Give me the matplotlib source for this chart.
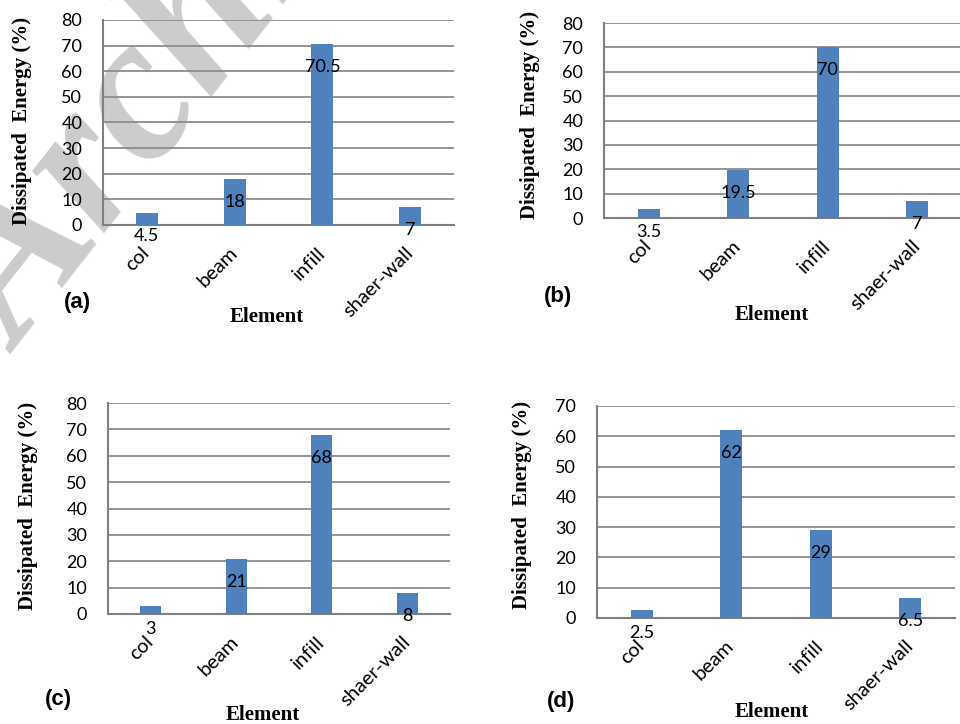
import matplotlib
matplotlib.use('Agg')
import matplotlib.pyplot as plt

# data
elements = ['col', 'beam', 'infill', 'shaer-wall']
energy_a = [4.5, 18, 70.5, 7]
energy_b = [3.5, 19.5, 70, 7]
energy_c = [3, 21, 68, 8]
energy_d = [2.5, 62, 29, 6.5]

ymax = {'a': 80, 'b': 80, 'c': 80, 'd': 70}

bar_color = '#4F81BD'
grid_color = '#8C8C8C'
sans = 'Lato'
serif = 'Liberation Serif'

fig = plt.figure(figsize=(9.6, 7.24), dpi=100)


def px_box(x0, x1, y0, y1):
    # pixel box (from top-left) -> figure fraction rect
    return [x0 / 960, 1 - y1 / 724, (x1 - x0) / 960, (y1 - y0) / 724]


panels = [
    ('a', energy_a, px_box(103, 454, 20, 225), (22, 121), (77, 303), (267, 317)),
    ('b', energy_b, px_box(604, 962, 23, 218), (530, 115), (558, 297), (772, 315)),
    ('c', energy_c, px_box(108, 450, 403, 614), (28, 506), (58, 700), (263, 715)),
    ('d', energy_d, px_box(597, 955, 406, 618), (522, 505), (561, 702), (772, 712)),
]

for tag, vals, rect, ylab_xy, tag_xy, xlab_xy in panels:
    ax = fig.add_axes(rect)
    ax.patch.set_alpha(0)
    x = range(len(elements))
    ax.bar(x, vals, width=0.25, color=bar_color, zorder=3)
    ax.set_xlim(-0.5, len(elements) - 0.5)
    ax.set_ylim(0, ymax[tag])
    ax.set_yticks(range(0, ymax[tag] + 1, 10))
    ax.yaxis.grid(True, color=grid_color, linewidth=1.3, zorder=0)
    ax.set_axisbelow(True)
    for s in ['top', 'right']:
        ax.spines[s].set_visible(False)
    for s in ['left', 'bottom']:
        ax.spines[s].set_color('#808080')
        ax.spines[s].set_linewidth(1.5)
    ax.tick_params(axis='y', length=0, pad=15, labelsize=13)
    ax.tick_params(axis='x', length=0, pad=18)
    for lab in ax.get_yticklabels():
        lab.set_fontfamily(sans)
    ax.set_xticks(list(x))
    ax.set_xticklabels(elements, rotation=45, ha='right', va='center',
                       rotation_mode='anchor', fontsize=14.5, fontfamily=sans)

    # data labels sit just under the bar top (Excel "inside end")
    for xi, v in zip(x, vals):
        ax.annotate(f'{v:g}', (xi, v), xytext=(0, -23), textcoords='offset pixels',
                    ha='center', va='center', fontsize=13, fontfamily=sans,
                    zorder=5)

    fig.text(ylab_xy[0] / 960, 1 - ylab_xy[1] / 724, 'Dissipated  Energy (%)',
             rotation=90, ha='center', va='center', fontsize=15,
             fontweight='bold', fontfamily=serif)
    fig.text(tag_xy[0] / 960, 1 - tag_xy[1] / 724, f'({tag})', ha='center',
             va='center', fontsize=16, fontweight='bold', fontfamily='Liberation Sans')
    fig.text(xlab_xy[0] / 960, 1 - xlab_xy[1] / 724, 'Element', ha='center',
             va='center', fontsize=15, fontweight='bold', fontfamily=serif)

# faint watermark running off the upper left corner, drawn under everything
fig.text(188 / 960, 1 - 58 / 724, 'Archive', rotation=52, ha='center', va='center',
         fontsize=150, fontstyle='italic', fontweight='bold', fontfamily=serif,
         color='#cccccc', zorder=-1)

fig.savefig('out.png', dpi=100)
